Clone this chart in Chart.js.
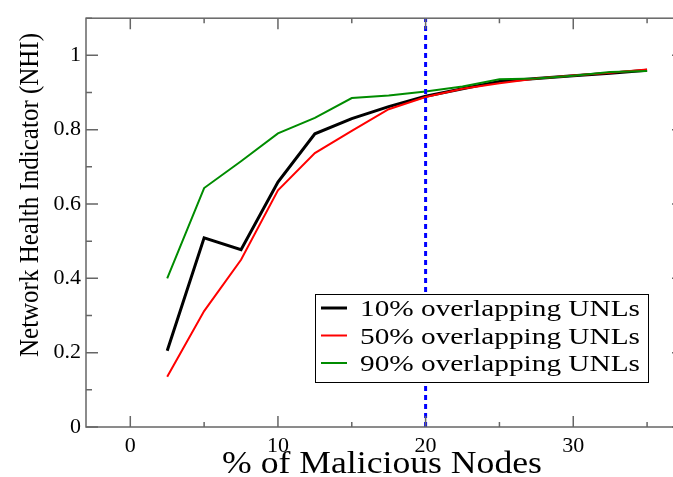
<!DOCTYPE html>
<html>
<head>
<meta charset="utf-8">
<script src="https://cdn.jsdelivr.net/npm/chart.js@4"></script>
<style>
  body { margin: 0; overflow: hidden; background: #fff; }
  #wrap { width: 690px; height: 477px; }
</style>
</head>
<body>
<div id="wrap"><canvas id="chart" width="690" height="477"></canvas></div>
<script>
// data
var malicious = [2.5, 5, 7.5, 10, 12.5, 15, 17.5, 20, 22.5, 25, 27.5, 30, 32.5, 35]
var nhi10 = [0.205, 0.509, 0.477, 0.659, 0.789, 0.830, 0.862, 0.890, 0.910, 0.930, 0.938, 0.945, 0.952, 0.960]
var nhi50 = [0.135, 0.312, 0.450, 0.637, 0.737, 0.797, 0.855, 0.888, 0.910, 0.925, 0.938, 0.946, 0.953, 0.962]
var nhi90 = [0.400, 0.643, 0.715, 0.790, 0.832, 0.885, 0.892, 0.903, 0.916, 0.936, 0.938, 0.945, 0.955, 0.958]
var seriesLabels = ['10% overlapping UNLs', '50% overlapping UNLs', '90% overlapping UNLs']
var thresholdX = 20
var xTicks = [0, 10, 20, 30]
var yTicks = [0, 0.2, 0.4, 0.6, 0.8, 1]

var serif = '"Liberation Serif", "Times New Roman", Times, serif'

function pts(ys) {
    return malicious.map(function (x, i) { return { x: x, y: ys[i] } })
}

// inward ticks on all four sides, frame, titles, legend box
var decor = {
    id: 'decor',
    afterDraw: function (chart) {
        var ctx = chart.ctx
        var a = chart.chartArea
        var xs = chart.scales.x
        var ys = chart.scales.y
        ctx.save()
        ctx.strokeStyle = '#666'
        ctx.lineWidth = 1.5
        ctx.strokeRect(a.left, a.top, a.right - a.left, a.bottom - a.top)

        ctx.beginPath()
        for (var v = 0; v <= xs.max; v += 5) {
            var px = xs.getPixelForValue(v)
            var len = (v % 10 === 0) ? 11 : 5
            ctx.moveTo(px, a.bottom); ctx.lineTo(px, a.bottom - len)
            ctx.moveTo(px, a.top); ctx.lineTo(px, a.top + len)
        }
        for (var k = 0; k <= 11; k++) {
            var py = ys.getPixelForValue(k / 10)
            var l2 = (k % 2 === 0) ? 12 : 6
            ctx.moveTo(a.left, py); ctx.lineTo(a.left + l2, py)
            ctx.moveTo(a.right, py); ctx.lineTo(a.right - l2, py)
        }
        ctx.stroke()

        // axis titles (source figure is a bit stretched sideways)
        ctx.fillStyle = '#000'
        ctx.textBaseline = 'alphabetic'
        ctx.textAlign = 'left'
        fitText(ctx, '% of Malicious Nodes', 222, 473, 320, '31px ' + serif)
        ctx.save()
        ctx.translate(38, 357)
        ctx.rotate(-Math.PI / 2)
        fitText(ctx, 'Network Health Indicator (NHI)', 0, 0, 324, '27px ' + serif)
        ctx.restore()

        // legend
        var lx = 315, ly = 294, lw = 333, lh = 88
        ctx.fillStyle = '#fff'
        ctx.fillRect(lx, ly, lw, lh)
        ctx.strokeStyle = '#000'
        ctx.lineWidth = 1
        ctx.strokeRect(lx + 0.5, ly + 0.5, lw, lh)
        var sets = chart.data.datasets.filter(function (d) { return d.inLegend })
        sets.forEach(function (d, i) {
            var cy = ly + 14 + i * 27.5
            ctx.strokeStyle = d.borderColor
            ctx.lineWidth = d.borderWidth
            ctx.beginPath()
            ctx.moveTo(lx + 6, cy); ctx.lineTo(lx + 32, cy)
            ctx.stroke()
            ctx.fillStyle = '#000'
            fitText(ctx, d.label, lx + 45, cy + 8, 280, '24px ' + serif)
        })
        ctx.restore()
    }
}

function fitText(ctx, txt, x, y, w, font) {
    ctx.font = font
    var m = ctx.measureText(txt).width
    ctx.save()
    ctx.translate(x, y)
    ctx.scale(w / m, 1)
    ctx.fillText(txt, 0, 0)
    ctx.restore()
}

var ctx = document.getElementById('chart').getContext('2d')
var chart = new Chart(ctx, {
    type: 'line',
    data: {
        datasets: [{
            label: seriesLabels[0],
            data: pts(nhi10),
            borderColor: '#000',
            borderWidth: 3,
            order: 3,
            inLegend: true
        }, {
            label: seriesLabels[1],
            data: pts(nhi50),
            borderColor: '#ff0000',
            borderWidth: 2,
            order: 2,
            inLegend: true
        }, {
            label: seriesLabels[2],
            data: pts(nhi90),
            borderColor: '#008c00',
            borderWidth: 2,
            order: 1,
            inLegend: true
        }, {
            label: 'threshold',
            data: [{ x: thresholdX, y: 0 }, { x: thresholdX, y: 1.1 }],
            borderColor: '#0000ff',
            borderWidth: 3,
            borderDash: [5, 4],
            order: 0
        }]
    },
    options: {
        responsive: false,
        animation: false,
        elements: { point: { radius: 0 }, line: { tension: 0, fill: false } },
        layout: { padding: { top: 14, right: 6, left: 0, bottom: 0 } },
        plugins: { legend: { display: false }, tooltip: { enabled: false } },
        scales: {
            x: {
                type: 'linear',
                min: -3,
                max: 37.5,
                grid: { display: false, drawTicks: false },
                border: { display: false },
                afterBuildTicks: function (s) { s.ticks = xTicks.map(function (v) { return { value: v } }) },
                afterFit: function (s) { s.height = 50 },
                ticks: {
                    padding: 6,
                    maxRotation: 0,
                    color: '#000',
                    font: { family: serif, size: 22 },
                    callback: function (v) { return String(v) }
                }
            },
            y: {
                min: 0,
                max: 1.1,
                grid: { display: false, drawTicks: false },
                border: { display: false },
                afterBuildTicks: function (s) { s.ticks = yTicks.map(function (v) { return { value: v } }) },
                afterFit: function (s) { s.width = 86 },
                ticks: {
                    padding: 5,
                    color: '#000',
                    font: { family: serif, size: 22 },
                    callback: function (v) { return String(Math.round(v * 10) / 10) }
                }
            }
        }
    },
    plugins: [decor]
})
</script>
</body>
</html>
